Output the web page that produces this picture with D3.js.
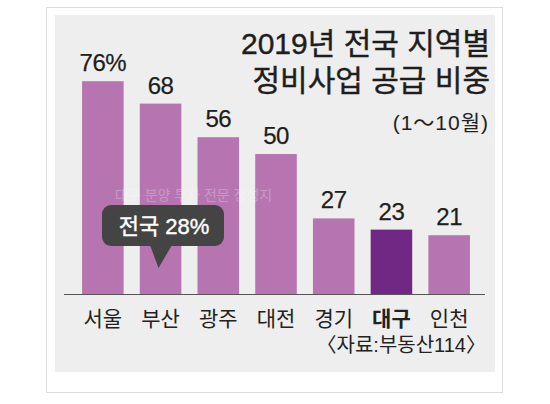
<!DOCTYPE html>
<html>
<head>
<meta charset="utf-8">
<script src="https://cdn.jsdelivr.net/npm/d3@7"></script>
<style>
  body { margin: 0; background: #fff; }
  svg { display: block; }
  text { font-family: "Liberation Sans", "Noto Sans CJK KR", sans-serif; }
</style>
</head>
<body>
<div id="chart"></div>
<script>
// Data.
var regions = ["서울", "부산", "광주", "대전", "경기", "대구", "인천"];
var shares = [76, 68, 56, 50, 27, 23, 21];
var highlight = ["대구"];
var nationalShare = 28;

var titleLines = ["2019년 전국 지역별", "정비사업 공급 비중"];
var period = "(1〜10월)";
var source = "〈자료:부동산114〉";

const WIDTH = 550;
const HEIGHT = 404;
const BASE = 294;

var svg = d3.select("#chart").append("svg")
            .attr("width", WIDTH)
            .attr("height", HEIGHT);

// Frame + panel.
svg.append("rect")
   .attr("x", 46.5).attr("y", 7.5)
   .attr("width", 456).attr("height", 385)
   .attr("fill", "#fff")
   .attr("stroke", "#dcdcdc");

svg.append("rect")
   .attr("x", 55).attr("y", 15)
   .attr("width", 440).attr("height", 357)
   .attr("fill", "#eeeeee");

var x = d3.scaleBand()
          .domain(regions)
          .range([74, 478])
          .paddingInner(0.28)
          .paddingOuter(0.14);

var y = d3.scaleLinear()
          .domain([0, 80])
          .range([BASE, 70]);

var data = regions.map(function (r, i) { return {region: r, value: shares[i]}; });

// Bars.
svg.selectAll("rect.bar")
   .data(data)
   .enter()
   .append("rect")
   .attr("class", "bar")
   .attr("x", function (d) { return x(d.region); })
   .attr("y", function (d) { return y(d.value); })
   .attr("width", x.bandwidth())
   .attr("height", function (d) { return BASE - y(d.value); })
   .attr("fill", function (d) { return highlight.indexOf(d.region) >= 0 ? "#702884" : "#b675b0"; });

// Value labels.
svg.selectAll("text.val")
   .data(data)
   .enter()
   .append("text")
   .attr("class", "val")
   .attr("x", function (d) { return x(d.region) + x.bandwidth() / 2; })
   .attr("y", function (d) { return y(d.value) - 10; })
   .attr("text-anchor", "middle")
   .attr("font-size", "24px")
   .attr("letter-spacing", "-0.5")
   .attr("fill", "#1e1e1e")
   .attr("stroke", "#1e1e1e")
   .attr("stroke-width", 0.25)
   .text(function (d, i) { return i == 0 ? d.value + "%" : d.value; });

// Baseline.
svg.append("line")
   .attr("x1", 64).attr("x2", 485)
   .attr("y1", BASE + 0.5).attr("y2", BASE + 0.5)
   .attr("stroke", "#555")
   .attr("stroke-width", 1.2);

// Category labels.
svg.selectAll("text.cat")
   .data(data)
   .enter()
   .append("text")
   .attr("class", "cat")
   .attr("x", function (d) { return x(d.region) + x.bandwidth() / 2; })
   .attr("y", 326)
   .attr("text-anchor", "middle")
   .attr("font-size", "21px")
   .attr("font-weight", function (d) { return highlight.indexOf(d.region) >= 0 ? "bold" : "normal"; })
   .attr("fill", "#222")
   .text(function (d) { return d.region; });

// Watermark.
svg.append("text")
   .attr("x", 115).attr("y", 200)
   .attr("font-size", "14px")
   .attr("fill", "#fff")
   .attr("opacity", 0.25)
   .text("대구 분양 투자 전문 정성지");

// Callout for national share.
var cx = x("부산") + x.bandwidth() / 2;
var callout = svg.append("g");
callout.append("rect")
       .attr("x", 102).attr("y", 205)
       .attr("width", 122).attr("height", 41)
       .attr("rx", 9)
       .attr("fill", "#444");
callout.append("path")
       .attr("d", "M" + (cx - 11) + ",244 L" + (cx + 12) + ",244 L" + (cx - 2) + ",268 Z")
       .attr("fill", "#444");
callout.append("text")
       .attr("x", 164).attr("y", 234)
       .attr("text-anchor", "middle")
       .attr("font-size", "22px")
       .attr("fill", "#fff")
       .attr("stroke", "#fff")
       .attr("stroke-width", 0.4)
       .text("전국 " + nationalShare + "%");

// Title.
svg.selectAll("text.title")
   .data(titleLines)
   .enter()
   .append("text")
   .attr("class", "title")
   .attr("x", 490)
   .attr("y", function (d, i) { return 54 + i * 37; })
   .attr("text-anchor", "end")
   .attr("font-size", "30px")
   .attr("fill", "#1e1e1e")
   .attr("stroke", "#1e1e1e")
   .attr("stroke-width", 0.4)
   .text(function (d) { return d; });

svg.append("text")
   .attr("x", 489).attr("y", 130)
   .attr("text-anchor", "end")
   .attr("font-size", "21px")
   .attr("letter-spacing", "1")
   .attr("fill", "#222")
   .text(period);

// Source.
svg.append("text")
   .attr("x", 486).attr("y", 352)
   .attr("text-anchor", "end")
   .attr("font-size", "20px")
   .attr("fill", "#222")
   .text(source);
</script>
</body>
</html>
